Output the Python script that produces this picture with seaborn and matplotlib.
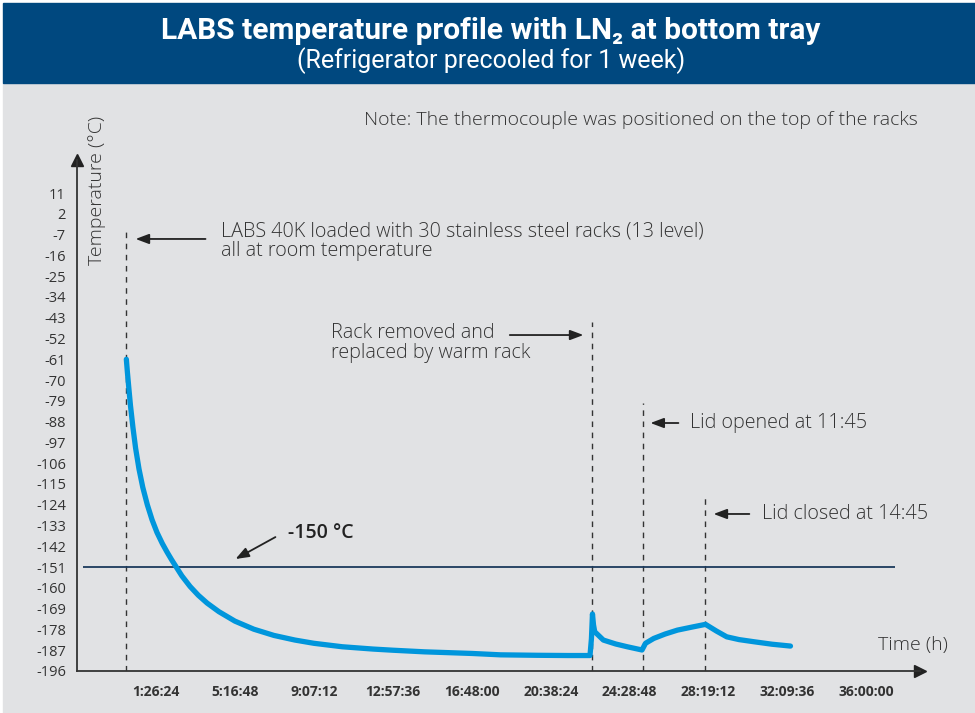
import matplotlib
matplotlib.use("Agg")
import matplotlib.pyplot as plt
import seaborn as sns
import pandas as pd
from matplotlib.patches import Rectangle

# temperature profile (hours since loading, deg C)
time_h = [0.00, 0.05, 0.126, 0.20, 0.32, 0.45, 0.615, 0.80, 1.02, 1.25, 1.49, 1.75,
          1.98, 2.20, 2.40, 2.70, 3.10, 3.50, 3.93, 4.50, 5.28, 6.20, 7.18, 8.20,
          9.12, 10.5, 12.0, 12.96, 14.5, 16.8, 18.2, 20.0, 21.5, 22.55, 22.62, 22.67,
          22.72, 22.78, 23.2, 23.8, 24.36, 25.08, 25.25, 25.65, 26.2, 26.8, 27.5,
          28.17, 28.7, 29.2, 29.8, 30.5, 31.4, 32.3]
temp_c = [-61.0, -66.5, -74.0, -81.0, -90.5, -99.5, -108.5, -116.5, -124.0, -130.5,
          -136.0, -140.8, -144.5, -147.8, -150.6, -154.8, -159.4, -163.2, -166.6,
          -170.3, -174.4, -177.9, -180.6, -182.6, -184.0, -185.5, -186.5, -187.0,
          -187.7, -188.4, -189.0, -189.2, -189.3, -189.3, -182.0, -171.3, -176.0,
          -179.0, -182.6, -184.3, -185.5, -186.9, -184.0, -181.9, -180.0, -178.3,
          -177.0, -175.8, -178.7, -181.2, -182.4, -183.3, -184.4, -185.2]

x_tick_pos = [-2.4, 1.44, 5.28, 9.12, 12.96, 16.8, 20.64, 24.48, 28.32, 32.16, 36.0]
x_tick_labels = ["", "1:26:24", "5:16:48", "9:07:12", "12:57:36", "16:48:00",
                 "20:38:24", "24:28:48", "28:19:12", "32:09:36", "36:00:00"]
y_ticks = list(range(11, -197, -9))

# event markers: time, top of dashed line
event_t = [0.0, 22.67, 25.15, 28.16]
event_top = [-4.2, -44.7, -80.1, -120.5]
threshold = -151

df = pd.DataFrame({"time": time_h, "temp": temp_c})

sns.set_style("white")
plt.rcParams['font.family'] = ['Open Sans', 'DejaVu Sans']

fig = plt.figure(figsize=(9.75, 7.13), dpi=100, facecolor="white")
W, H = 975, 713

# background panels
fig.patches.append(Rectangle((3 / W, 0), 1, 1 - 83 / H, transform=fig.transFigure,
                             color="#e1e2e4", zorder=-2))
fig.patches.append(Rectangle((3 / W, 1 - 83 / H), 1, 80 / H, transform=fig.transFigure,
                             color="#00487f", zorder=-2))
fig.text(491 / W, 1 - 31 / H, "LABS temperature profile with LN₂ at bottom tray",
         color="white", fontsize=21.5, fontweight="bold", ha="center", va="center",
         family=['Roboto', 'DejaVu Sans'])
fig.text(491 / W, 1 - 61 / H, "(Refrigerator precooled for 1 week)",
         color="white", fontsize=18, ha="center", va="center",
         family=['Roboto', 'DejaVu Sans'])

ax = fig.add_axes([77 / W, 42 / H, 843 / W, 511 / H])
ax.set_zorder(2)
ax.set_facecolor("none")

sns.lineplot(data=df, x="time", y="temp", ax=ax, color="#0096dc", linewidth=3.8,
             solid_capstyle="round", solid_joinstyle="round", zorder=3)

ax.hlines(threshold, -2.1, 37.4, color="#1b3a5c", linewidth=1.3, zorder=2)
ax.vlines(event_t, -196, event_top, colors="#333333", linewidth=1,
          linestyles=(0, (4, 4)), zorder=1)

ax.set_xlim(-2.365, 38.6)
ax.set_ylim(-196, 25.3)
ax.set_xticks(x_tick_pos)
ax.set_xticklabels(x_tick_labels, fontsize=10, fontweight="bold", color="#333333")
ax.set_yticks(y_ticks)
ax.set_yticklabels([str(v) for v in y_ticks], fontsize=10.5, color="#333333")
ax.tick_params(axis="both", direction="out", length=4, width=1.2, color="#333333", pad=4)
ax.tick_params(axis="x", pad=6)
ax.set_xlabel("")
ax.set_ylabel("")
sns.despine(ax=ax)
for s in ["left", "bottom"]:
    ax.spines[s].set_color("#333333")
    ax.spines[s].set_linewidth(1.3)
ax.plot(1, 0, ">", color="#222222", markersize=9, transform=ax.transAxes, clip_on=False)
ax.plot(0, 1, "^", color="#222222", markersize=9, transform=ax.transAxes, clip_on=False)

arrow = dict(arrowstyle="-|>,head_length=0.8,head_width=0.3", color="#222222", lw=1.3,
             shrinkA=0, shrinkB=0)
txt = dict(fontsize=14.2, color="#333333", va="center", ha="left", linespacing=0.95,
           fontweight="light")

ax.annotate("", xy=(0.45, -8.9), xytext=(3.85, -8.9), arrowprops=arrow)
ax.text(4.59, -9.8, "LABS 40K loaded with 30 stainless steel racks (13 level)\nall at room temperature", **txt)

ax.annotate("", xy=(22.23, -50.5), xytext=(18.65, -50.5), arrowprops=arrow)
ax.text(9.93, -54.0, "Rack removed and\nreplaced by warm rack", **txt)

ax.annotate("", xy=(25.49, -88.6), xytext=(26.85, -88.6), arrowprops=arrow)
ax.text(27.43, -88.6, "Lid opened at 11:45", **txt)

ax.annotate("", xy=(28.56, -128), xytext=(30.3, -128), arrowprops=arrow)
ax.text(30.93, -128, "Lid closed at 14:45", **txt)

ax.annotate("", xy=(5.31, -147.5), xytext=(7.25, -138), arrowprops=arrow)
ax.text(7.84, -136.3, "-150 °C", fontsize=14, fontweight="semibold", color="#222222",
        va="center", ha="left")

fig.text(918 / W, 1 - 120 / H, "Note: The thermocouple was positioned on the top of the racks",
         fontsize=14, color="#333333", ha="right", va="center", fontweight="light")
fig.text(878 / W, 1 - 645 / H, "Time (h)", fontsize=14, color="#333333", ha="left",
         va="center", fontweight="light")
fig.text(97 / W, 1 - 190 / H, "Temperature (°C)", fontsize=14, color="#333333",
         rotation=90, ha="center", va="center", fontweight="light")

fig.savefig("out.png", dpi=100, facecolor="white")
